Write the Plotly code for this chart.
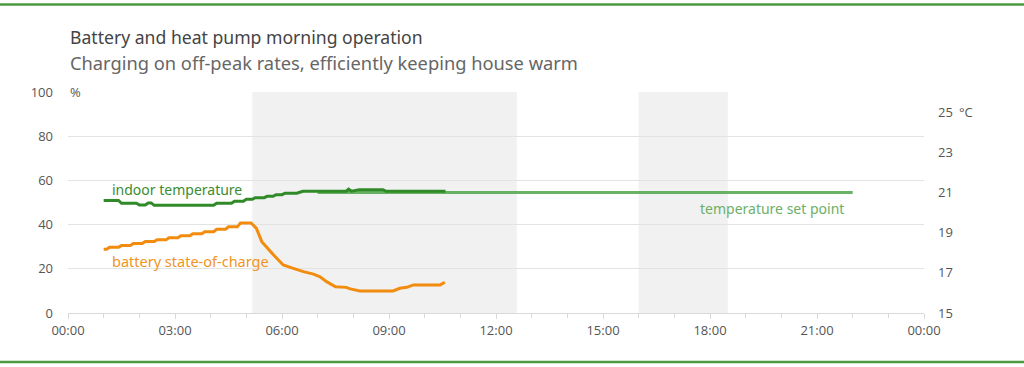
import plotly.graph_objects as go

DAY = "2024-01-01 "
NEXT = "2024-01-02 "

# indoor temperature (degC, right axis)
temp_times = ["01:00", "01:25", "01:30", "01:55", "02:00", "02:10", "02:15", "02:20", "02:25",
              "04:05", "04:10", "04:35", "04:40", "04:55", "05:00", "05:10", "05:15", "05:30",
              "05:35", "05:45", "05:50", "06:00", "06:05", "06:25", "06:35", "07:48", "07:52",
              "07:57", "08:10", "08:50", "08:55", "10:35"]
temp_values = [20.6, 20.6, 20.46, 20.46, 20.38, 20.38, 20.48, 20.48, 20.36,
               20.36, 20.46, 20.46, 20.56, 20.56, 20.66, 20.66, 20.74, 20.74,
               20.81, 20.81, 20.89, 20.89, 20.96, 20.96, 21.06, 21.06, 21.16,
               21.06, 21.14, 21.14, 21.06, 21.06]

# battery state of charge (%, left axis)
soc_times = ["01:00", "01:05", "01:10", "01:25", "01:30", "01:45", "01:50", "02:05", "02:10",
             "02:25", "02:30", "02:45", "02:50", "03:05", "03:10", "03:25", "03:30", "03:45",
             "03:50", "04:05", "04:10", "04:25", "04:30", "04:45", "04:50", "05:08", "05:17",
             "05:26", "05:46", "06:02", "06:19", "06:36", "06:53", "07:04", "07:15", "07:30",
             "07:48", "07:55", "08:11", "09:07", "09:18", "09:30", "09:41", "10:26", "10:34"]
soc_values = [28.8, 28.8, 29.7, 29.7, 30.5, 30.5, 31.4, 31.4, 32.3,
              32.3, 33.2, 33.2, 34.1, 34.1, 35.0, 35.0, 35.9, 35.9,
              36.8, 36.8, 37.9, 37.9, 39.0, 39.0, 40.7, 40.7, 38.3,
              32.3, 26.2, 21.7, 20.2, 18.7, 17.6, 16.4, 14.2, 11.9,
              11.6, 10.9, 10.0, 10.0, 11.2, 11.6, 12.7, 12.7, 13.9]

# temperature set point
setpoint_times = ["07:00", "22:00"]
setpoint_values = [21.0, 21.0]

# peak-time shading periods
shade_periods = [("05:10", "12:35"), ("16:00", "18:30")]

left_ticks = [0, 20, 40, 60, 80, 100]
right_ticks = [15, 17, 19, 21, 23, 25]

FONT = "Noto Sans"
TICK_FONT = dict(family="Open Sans", size=13, color="#555555")

fig = go.Figure()

fig.add_trace(go.Scatter(
    x=[DAY + t for t in setpoint_times], y=setpoint_values, yaxis="y2",
    mode="lines", line=dict(color="#5aaa55", width=3), opacity=0.9,
    hoverinfo="skip", showlegend=False))
fig.add_trace(go.Scatter(
    x=[DAY + t for t in temp_times], y=temp_values, yaxis="y2",
    mode="lines", line=dict(color="#2f8a27", width=3),
    showlegend=False))
fig.add_trace(go.Scatter(
    x=[DAY + t for t in soc_times], y=soc_values, yaxis="y",
    mode="lines", line=dict(color="#f28c0e", width=3),
    showlegend=False))

shapes = []
for a, b in shade_periods:
    shapes.append(dict(type="rect", xref="x", yref="paper", x0=DAY + a, x1=DAY + b,
                       y0=0, y1=1, fillcolor="#f1f1f1", line=dict(width=0), layer="below"))
# decorative green frame lines
plot_w, plot_h = 856, 221
ml, mb = 68, 54
for ypx in [4.5, 362]:
    yp = (367 - mb - ypx) / plot_h
    shapes.append(dict(type="line", xref="paper", yref="paper",
                       x0=-ml / plot_w, x1=(1024 - ml) / plot_w, y0=yp, y1=yp,
                       line=dict(color="#4c9a40", width=2.5)))

annotations = [
    dict(text="Battery and heat pump morning operation", xref="paper", yref="paper",
         x=0, y=(313 - 37) / plot_h, xanchor="left", yanchor="middle", showarrow=False,
         font=dict(family=FONT, size=17.6, color="#444444")),
    dict(text="Charging on off-peak rates, efficiently keeping house warm", xref="paper", yref="paper",
         x=0, y=(313 - 62) / plot_h, xanchor="left", yanchor="middle", showarrow=False,
         font=dict(family=FONT, size=18.3, color="#666666")),
    dict(text="%", xref="paper", yref="paper", x=0, y=1, xanchor="left", yanchor="middle",
         showarrow=False, font=TICK_FONT),
    dict(text="°C", xref="paper", yref="y2", x=(957 - ml) / plot_w, y=25, xanchor="left",
         yanchor="middle", showarrow=False, font=TICK_FONT),
    dict(text="indoor temperature", xref="x", yref="y2", x=DAY + "01:10", y=21.17,
         xanchor="left", yanchor="middle", showarrow=False,
         font=dict(family=FONT, size=14, color="#3a8c32")),
    dict(text="battery state-of-charge", xref="x", yref="y", x=DAY + "01:10", y=23.5,
         xanchor="left", yanchor="middle", showarrow=False,
         font=dict(family=FONT, size=14.5, color="#f29421")),
    dict(text="temperature set point", xref="x", yref="y2", x=DAY + "21:49", y=20.22,
         xanchor="right", yanchor="middle", showarrow=False,
         font=dict(family=FONT, size=14, color="#6cb066")),
]

fig.update_layout(
    width=1024, height=367,
    margin=dict(l=ml, r=100, t=92, b=mb),
    paper_bgcolor="white", plot_bgcolor="white",
    shapes=shapes, annotations=annotations,
    xaxis=dict(type="date", range=[DAY + "00:00", NEXT + "00:00"],
               dtick=3 * 3600 * 1000, tickformat="%H:%M", tickfont=TICK_FONT,
               showgrid=False, showline=True, linecolor="#d9d9d9", linewidth=1,
               ticks="outside", ticklen=5, tickcolor="#d9d9d9",
               minor=dict(dtick=3600 * 1000, ticks="outside", ticklen=4, tickcolor="#d9d9d9"),
               zeroline=False, fixedrange=True),
    yaxis=dict(range=[0, 100], tickvals=left_ticks, tickfont=TICK_FONT,
               showgrid=True, gridcolor="#e3e3e3", gridwidth=1, zeroline=False,
               showline=False, ticks="", ticklabelstandoff=14),
    yaxis2=dict(range=[15, 26], tickvals=right_ticks, tickfont=TICK_FONT,
                overlaying="y", side="right", showgrid=False, zeroline=False,
                showline=False, ticks="", ticklabelstandoff=13),
)

fig.write_html("out.html", config={"displayModeBar": False},
               post_script="document.body.style.margin='0';document.body.style.overflow='hidden';")
